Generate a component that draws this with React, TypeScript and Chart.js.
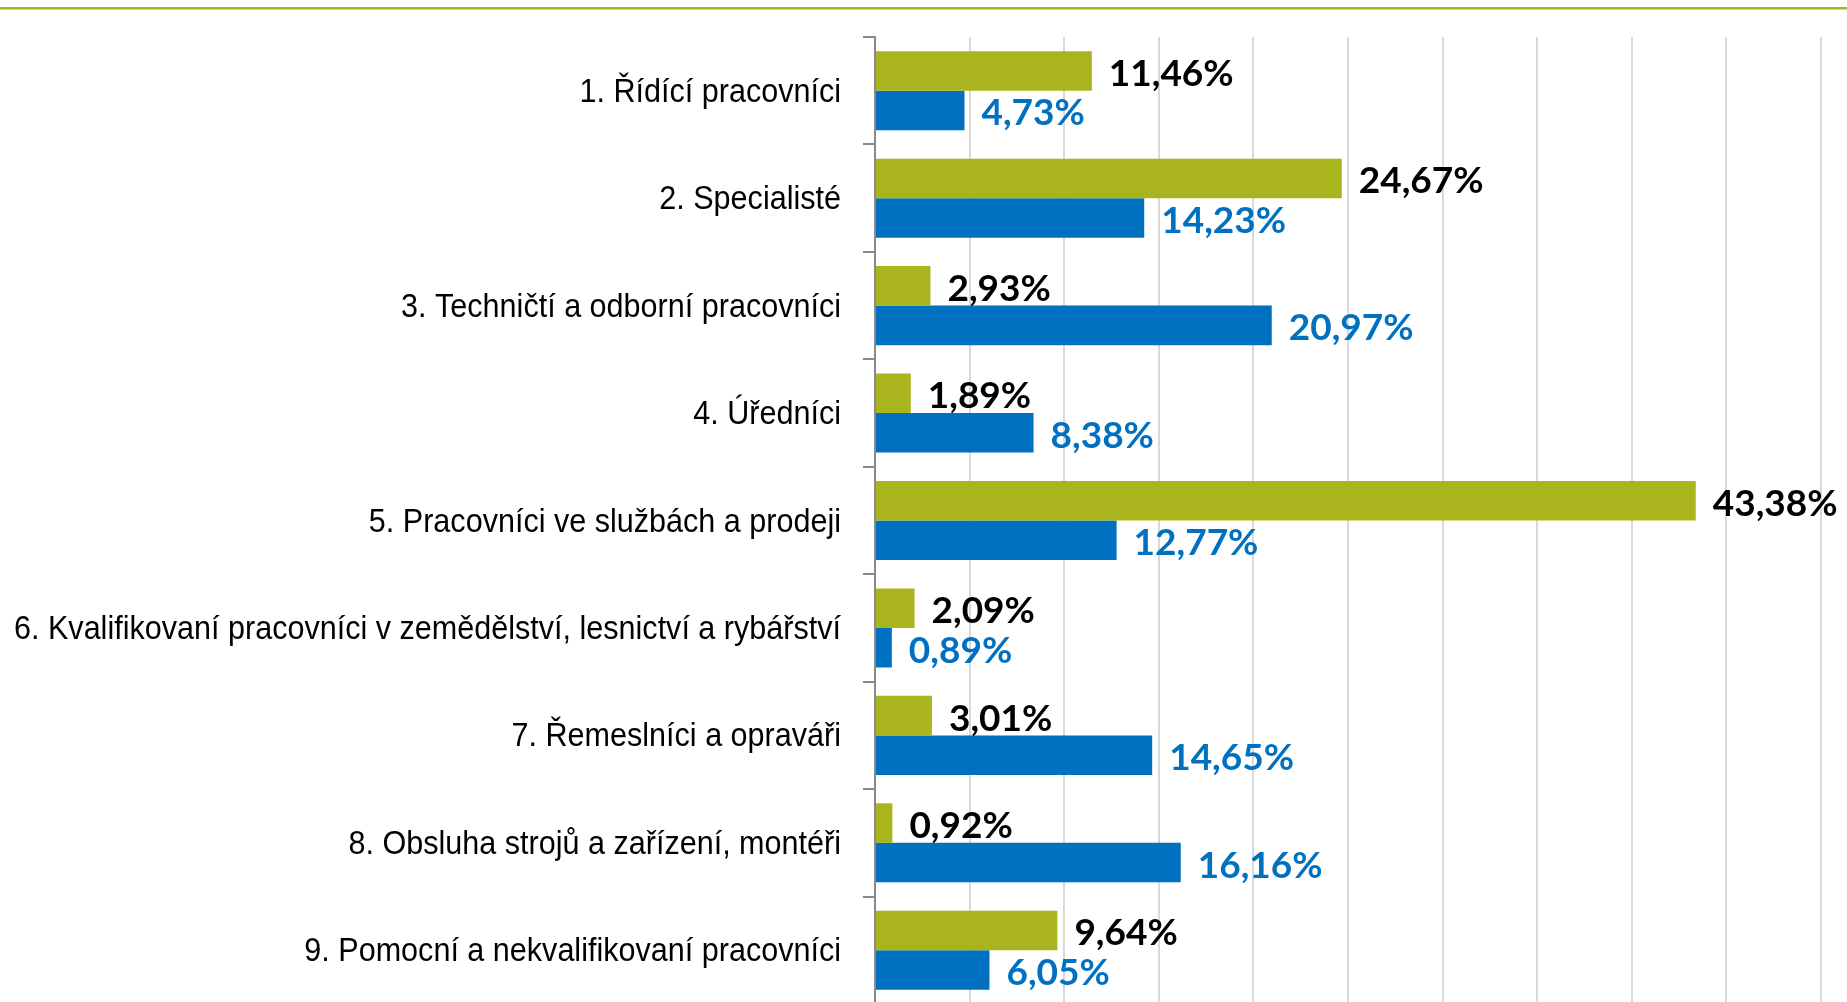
import React, { useEffect, useRef } from "react";
import { Chart, registerables } from "chart.js";

Chart.register(...registerables);

const categories = [
  "1. Řídící pracovníci",
  "2. Specialisté",
  "3. Techničtí a odborní pracovníci",
  "4. Úředníci",
  "5. Pracovníci ve službách a prodeji",
  "6. Kvalifikovaní pracovníci v zemědělství, lesnictví a rybářství",
  "7. Řemeslníci a opraváři",
  "8. Obsluha strojů a zařízení, montéři",
  "9. Pomocní a nekvalifikovaní pracovníci",
];
const greenValues = [11.46, 24.67, 2.93, 1.89, 43.38, 2.09, 3.01, 0.92, 9.64];
const blueValues = [4.73, 14.23, 20.97, 8.38, 12.77, 0.89, 14.65, 16.16, 6.05];

const GREEN = "#AAB41C";
const BLUE = "#0070C0";

const fmt = (v: number) => v.toFixed(2).replace(".", ",") + "%";

const labelPlugin = {
  id: "barLabels",
  afterDatasetsDraw(chart: any) {
    const ctx = chart.ctx;
    ctx.save();
    ctx.font = "bold 37px Lato, 'Open Sans', sans-serif";
    ctx.textBaseline = "middle";
    ctx.textAlign = "left";
    chart.data.datasets.forEach((ds: any, di: number) => {
      const meta = chart.getDatasetMeta(di);
      ctx.fillStyle = di === 0 ? "#000000" : BLUE;
      meta.data.forEach((bar: any, i: number) => {
        ctx.fillText(fmt(ds.data[i]), bar.x + 17, bar.y + 3);
      });
    });
    ctx.restore();
  },
};

const categoryLabelPlugin = {
  id: "catLabels",
  afterDraw(chart: any) {
    const ctx = chart.ctx;
    const y = chart.scales.y;
    const right = y.right - 34;
    ctx.save();
    ctx.font = "33px 'Liberation Sans', Arial, sans-serif";
    ctx.fillStyle = "#000000";
    ctx.textBaseline = "middle";
    ctx.textAlign = "right";
    // condense the font to the reference's narrow face (widest label spans ~827px)
    const widest = Math.max(...categories.map((c) => ctx.measureText(c).width));
    const sx = 827 / widest;
    categories.forEach((c, i) => {
      const py = y.getPixelForValue(i);
      ctx.save();
      ctx.translate(right, py + 2);
      ctx.scale(sx, 1);
      ctx.fillText(c, 0, 0);
      ctx.restore();
    });
    ctx.restore();
  },
};

const topLinePlugin = {
  id: "topLine",
  beforeDraw(chart: any) {
    const ctx = chart.ctx;
    ctx.save();
    ctx.fillStyle = "#A9B31C";
    ctx.fillRect(0, 7, chart.width, 2);
    ctx.fillStyle = "#D4D880";
    ctx.fillRect(0, 9, chart.width, 1);
    ctx.restore();
  },
};

export default function App() {
  const ref = useRef<HTMLCanvasElement>(null);
  useEffect(() => {
    document.body.style.margin = "0";
    document.documentElement.style.overflow = "hidden";
    document.body.style.overflow = "hidden";
    const chart = new Chart(ref.current!, {
      type: "bar",
      data: {
        labels: categories,
        datasets: [
          { label: "A", data: greenValues, backgroundColor: GREEN, categoryPercentage: 0.736, barPercentage: 1.0 },
          { label: "B", data: blueValues, backgroundColor: BLUE, categoryPercentage: 0.736, barPercentage: 1.0 },
        ],
      },
      options: {
        indexAxis: "y",
        animation: false,
        responsive: false,
        maintainAspectRatio: false,
        layout: { padding: { top: 37, right: 26, bottom: 0, left: 0 } },
        plugins: { legend: { display: false }, tooltip: { enabled: false } },
        scales: {
          x: {
            min: 0,
            max: 50,
            ticks: { display: false, stepSize: 5 },
            grid: { color: "#D9D9D9", lineWidth: 2, drawTicks: false },
            border: { display: false },
          },
          y: {
            afterFit(scale: any) {
              scale.width = 875;
            },
            ticks: { display: false },
            grid: { drawOnChartArea: false, drawTicks: true, tickLength: 12, color: "#898989", lineWidth: 2 },
            border: { display: true, color: "#898989", width: 2 },
          },
        },
      },
      plugins: [topLinePlugin, labelPlugin, categoryLabelPlugin],
    });
    return () => chart.destroy();
  }, []);
  return <canvas ref={ref} width={1847} height={1004} style={{ display: "block" }} />;
}
